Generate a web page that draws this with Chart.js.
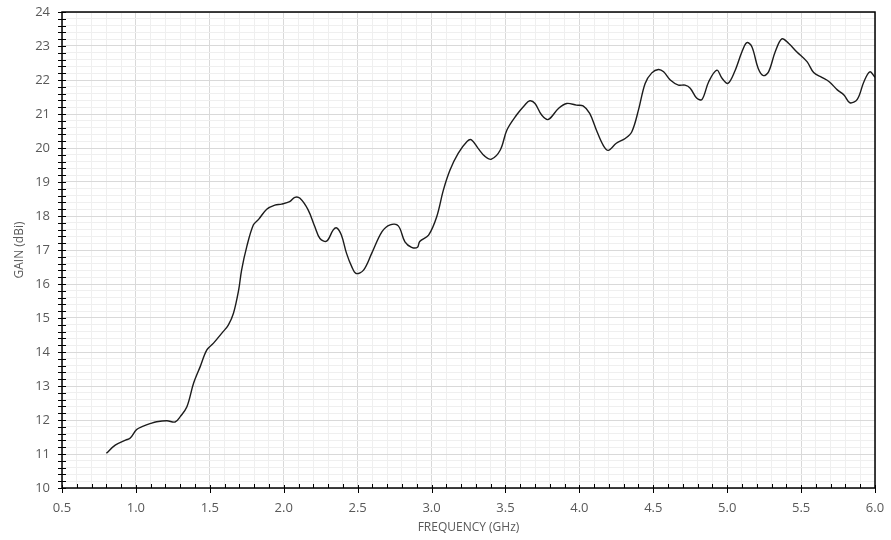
<!DOCTYPE html>
<html>
<head>
<meta charset="utf-8">
<script src="https://cdn.jsdelivr.net/npm/chart.js@4"></script>
<style>
  body { margin: 0; background: #fff; }
</style>
</head>
<body>
<canvas id="myChart" width="891" height="540"></canvas>
<script>
// Step 1: data
var freqGHz = [
  0.80, 0.86, 0.93, 0.96, 1.005, 1.05, 1.10, 1.14, 1.21, 1.265,
  1.30, 1.345, 1.39, 1.435, 1.48, 1.525, 1.59, 1.625, 1.66, 1.695,
  1.715, 1.75, 1.795, 1.83, 1.885, 1.94, 1.985, 2.04, 2.075, 2.11,
  2.165, 2.21, 2.245, 2.29, 2.335, 2.358, 2.39, 2.425, 2.46, 2.49,
  2.54, 2.595, 2.665, 2.72, 2.775, 2.82, 2.865, 2.905, 2.92, 2.98,
  3.035, 3.08, 3.125, 3.18, 3.24, 3.27, 3.315, 3.36, 3.405, 3.465,
  3.51, 3.575, 3.63, 3.665, 3.70, 3.745, 3.79, 3.86, 3.915, 3.98,
  4.025, 4.07, 4.115, 4.16, 4.195, 4.25, 4.31, 4.355, 4.40, 4.445,
  4.49, 4.535, 4.57, 4.615, 4.67, 4.715, 4.75, 4.795, 4.83, 4.875,
  4.93, 4.965, 5.005, 5.05, 5.10, 5.133, 5.167, 5.21, 5.245, 5.28,
  5.325, 5.37, 5.415, 5.47, 5.54, 5.585, 5.64, 5.69, 5.745, 5.79,
  5.83, 5.88, 5.925, 5.965, 6.00
];
var gainDBi = [
  11.02, 11.26, 11.41, 11.46, 11.72, 11.82, 11.90, 11.95, 11.98, 11.94,
  12.10, 12.39, 13.08, 13.57, 14.06, 14.26, 14.60, 14.79, 15.14, 15.82,
  16.41, 17.10, 17.74, 17.90, 18.20, 18.32, 18.35, 18.42, 18.55, 18.52,
  18.18, 17.69, 17.34, 17.26, 17.59, 17.65, 17.44, 16.90, 16.51, 16.31,
  16.41, 16.90, 17.54, 17.74, 17.71, 17.24, 17.08, 17.08, 17.25, 17.44,
  17.98, 18.76, 19.35, 19.84, 20.19, 20.24, 19.99, 19.76, 19.67, 19.94,
  20.53, 20.97, 21.26, 21.39, 21.31, 20.97, 20.84, 21.17, 21.31, 21.26,
  21.24, 21.02, 20.53, 20.09, 19.93, 20.14, 20.28, 20.48, 21.12, 21.90,
  22.21, 22.31, 22.24, 22.00, 21.85, 21.85, 21.76, 21.46, 21.43, 21.95,
  22.29, 22.05, 21.90, 22.24, 22.83, 23.10, 22.98, 22.34, 22.13, 22.24,
  22.83, 23.21, 23.08, 22.83, 22.54, 22.22, 22.08, 21.95, 21.71, 21.56,
  21.33, 21.43, 21.95, 22.24, 22.08
];

// axis ranges and label steps
var xMin = 0.5, xMax = 6.0, xMinorStep = 0.1, xMajorStep = 0.5;
var yMin = 10, yMax = 24, yMinorStep = 0.2, yMajorStep = 1;

var points = freqGHz.map(function (f, i) { return { x: f, y: gainDBi[i] }; });

function isMultiple(v, step) {
  var r = v / step;
  return Math.abs(r - Math.round(r)) < 1e-6;
}

var labelFont = { family: "'Open Sans', sans-serif", size: 13 };
var titleFont = { family: "'Open Sans', sans-serif", size: 12 };

// Step 2: black frame and tick marks drawn from the scales
var frameTicks = {
  id: 'frameTicks',
  afterDraw: function (chart) {
    var ctx = chart.ctx;
    var a = chart.chartArea;
    var xs = chart.scales.x, ys = chart.scales.y;
    ctx.save();
    ctx.strokeStyle = '#000';
    ctx.lineWidth = 1;
    ctx.beginPath();
    xs.ticks.forEach(function (t) {
      var px = Math.round(xs.getPixelForValue(t.value)) + 0.5;
      if (isMultiple(t.value, xMajorStep)) {
        ctx.moveTo(px, a.bottom - 3); ctx.lineTo(px, a.bottom + 5);
      } else {
        ctx.moveTo(px, a.bottom - 4); ctx.lineTo(px, a.bottom);
      }
    });
    ys.ticks.forEach(function (t) {
      var py = Math.round(ys.getPixelForValue(t.value)) + 0.5;
      ctx.moveTo(a.left - 4, py); ctx.lineTo(a.left + 4, py);
    });
    ctx.stroke();
    ctx.lineWidth = 1.5;
    ctx.strokeRect(a.left, a.top, a.right - a.left, a.bottom - a.top);
    ctx.restore();
  }
};

// Step 3: the chart
var canvas = document.getElementById('myChart');
var myChart = new Chart(canvas.getContext('2d'), {
  type: 'line',
  data: {
    datasets: [{
      data: points,
      borderColor: '#1c1c1c',
      borderWidth: 1.4,
      pointRadius: 0,
      fill: false,
      tension: 0.35
    }]
  },
  options: {
    responsive: false,
    animation: false,
    layout: { padding: { left: 0, right: 16, top: 12, bottom: 0 } },
    plugins: { legend: { display: false }, tooltip: { enabled: false } },
    scales: {
      x: {
        type: 'linear',
        min: xMin,
        max: xMax,
        afterFit: function (scale) {
          scale.height = 52;
          scale.paddingLeft = 0;
          scale.paddingRight = 0;
        },
        border: { display: false },
        grid: {
          drawTicks: false,
          color: function (c) { return isMultiple(c.tick.value, xMajorStep) ? '#d9d9d9' : '#efefef'; }
        },
        ticks: {
          stepSize: xMinorStep,
          autoSkip: false,
          maxRotation: 0,
          maxTicksLimit: 1000,
          padding: 12,
          color: '#595959',
          font: labelFont,
          callback: function (v) { return isMultiple(v, xMajorStep) ? v.toFixed(1) : ''; }
        },
        title: {
          display: true,
          text: 'FREQUENCY (GHz)',
          color: '#595959',
          font: titleFont,
          padding: { top: 0, bottom: 5 }
        }
      },
      y: {
        min: yMin,
        max: yMax,
        afterFit: function (scale) {
          scale.width = 62;
          scale.paddingTop = 0;
          scale.paddingBottom = 0;
        },
        border: { display: false },
        grid: {
          drawTicks: false,
          color: function (c) { return isMultiple(c.tick.value, yMajorStep) ? '#d9d9d9' : '#efefef'; }
        },
        ticks: {
          stepSize: yMinorStep,
          autoSkip: false,
          maxTicksLimit: 1000,
          padding: 12,
          color: '#595959',
          font: labelFont,
          callback: function (v) { return isMultiple(v, yMajorStep) ? String(Math.round(v)) : ''; }
        },
        title: {
          display: true,
          text: 'GAIN (dBi)',
          color: '#595959',
          font: titleFont,
          padding: { top: 12, bottom: 0 }
        }
      }
    }
  },
  plugins: [frameTicks]
});
</script>
</body>
</html>
